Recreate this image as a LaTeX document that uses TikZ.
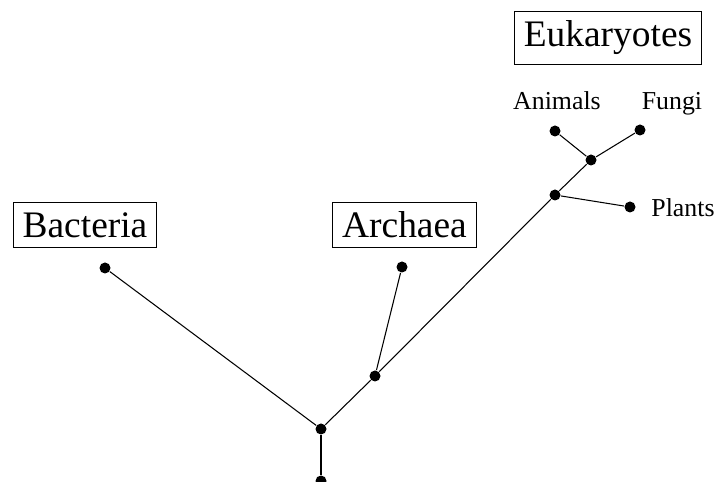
\documentclass[tikz,border=0pt]{standalone}
\usepackage{fontspec}
\setmainfont{Liberation Serif}
\begin{document}
\begin{tikzpicture}[x=0.02cm, y=-0.02cm, line width=0.6pt,
		dot/.style={circle, fill, inner sep=0pt, minimum size=0.22cm},
		domainbox/.style={draw, line width=0.5pt, inner sep=0.19cm, font=\fontsize{21.3}{25}\selectfont},
		taxon/.style={inner sep=0pt, anchor=base, font=\fontsize{14.7}{17}\selectfont}]
		\useasboundingbox (0,0) rectangle (717,482);
		
		% Branch points and leaves
		\node[dot] (root) at (321, 481) {};
		\node[dot] (split) at (321, 429) {};
		\node[dot] (arch) at (375, 376) {};
		\node[dot] (euk) at (555, 195) {};
		\node[dot] (opis) at (591, 160) {};
		\node[dot] (bact) at (105, 268) {};
		\node[dot] (archleaf) at (402, 267) {};
		\node[dot] (plants) at (630, 207) {};
		\node[dot] (animals) at (555, 131) {};
		\node[dot] (fungi) at (640, 130) {};
		
		% Draw tree
		\draw (root) -- (split);
		\draw (split) -- (bact);
		\draw (split) -- (arch);
		\draw (arch) -- (archleaf);
		\draw (arch) -- (euk);
		\draw (euk) -- (plants);
		\draw (euk) -- (opis);
		\draw (opis) -- (animals);
		\draw (opis) -- (fungi);
		
		% Domain labels
		\node[domainbox] (bactlabel) at (85, 225) {Bacteria};
		\node[domainbox] (archlabel) at (404.5, 225) {Archaea};
		\node[domainbox] (euklabel) at (608, 37.5) {Eukaryotes};
		
		% Kingdom labels
		\node[taxon] (animalslabel) at (557, 110) {Animals};
		\node[taxon] (fungilabel) at (672, 110) {Fungi};
		\node[taxon] (plantslabel) at (683, 217) {Plants};
	\end{tikzpicture}
\end{document}
